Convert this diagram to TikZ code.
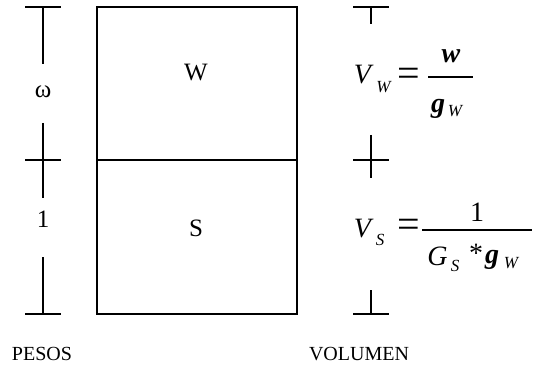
\documentclass[tikz,border=0pt]{standalone}
\usepackage{fontspec}
\setmainfont{Liberation Serif}
\begin{document}
\begin{tikzpicture}[x=1pt,y=-1pt,line width=1.5pt,
  cell/.style={draw,minimum width=200pt,inner sep=0pt,outer sep=0pt,anchor=north west},
  lbl/.style={font=\fontsize{25}{28}\selectfont,inner sep=0pt},
  caption/.style={font=\fontsize{20}{24}\selectfont,inner sep=0pt,anchor=base},
  big/.style={font=\fontsize{28}{32}\selectfont\itshape,inner sep=0pt},
  bigb/.style={font=\fontsize{28}{32}\selectfont\bfseries\itshape,inner sep=0pt},
  up/.style={font=\fontsize{28}{32}\selectfont,inner sep=0pt},
  eq/.style={font=\fontsize{40}{44}\selectfont,inner sep=0pt},
  sub/.style={font=\fontsize{17}{20}\selectfont\itshape,inner sep=0pt}]
\useasboundingbox (0,0) rectangle (538,366);
% box
\node[cell,minimum height=153pt] (top) at (97,7) {};
\node[cell,minimum height=154pt] (bot) at (97,160) {};
\node[lbl] (wl) at (196,72.5) {W};
\node[lbl] (sl) at (196,228) {S};
% left scale
\draw (25,7) -- (61,7) (43,7) -- (43,64);
\draw (43,123) -- (43,198) (25,160) -- (61,160);
\draw (43,257) -- (43,314) (25,314) -- (61,314);
\node[lbl] (om) at (43,92) {ω};
\node[lbl] (one) at (43,219) {1};
% right scale
\draw (353,7) -- (389,7) (371,7) -- (371,24);
\draw (371,135) -- (371,178) (353,160) -- (389,160);
\draw (371,290) -- (371,314) (353,314) -- (389,314);
% formula V_W = w / g_W
\node[big] (v1) at (362.5,75) {V};
\node[sub] (v1s) at (383.5,87) {W};
\node[eq] (e1) at (408.5,77) {=};
\coordinate (b1l) at (428,77);
\coordinate (b1r) at (473,77);
\draw (b1l) -- (b1r);
\node[bigb] (n1) at (451,56) {w};
\node[bigb] (g1) at (438,109) {g};
\node[sub] (g1s) at (455,111) {W};
% formula V_S = 1 / (G_S * g_W)
\node[big] (v2) at (362.5,229) {V};
\node[sub] (v2s) at (380,240) {S};
\node[eq] (e2) at (408.5,228) {=};
\coordinate (b2l) at (422,230);
\coordinate (b2r) at (532,230);
\draw (b2l) -- (b2r);
\node[up] (n2) at (477,212.5) {1};
\node[big] (gs) at (437.5,256) {G};
\node[sub] (gss) at (455,266) {S};
\node[up] (st) at (476,253) {*};
\node[bigb] (g2) at (492,260) {g};
\node[sub] (g2s) at (511,263.5) {W};
% captions
\node[caption] (pesos) at (42,360.7) {PESOS};
\node[caption] (vol) at (359,360.7) {VOLUMEN};
\end{tikzpicture}
\end{document}
